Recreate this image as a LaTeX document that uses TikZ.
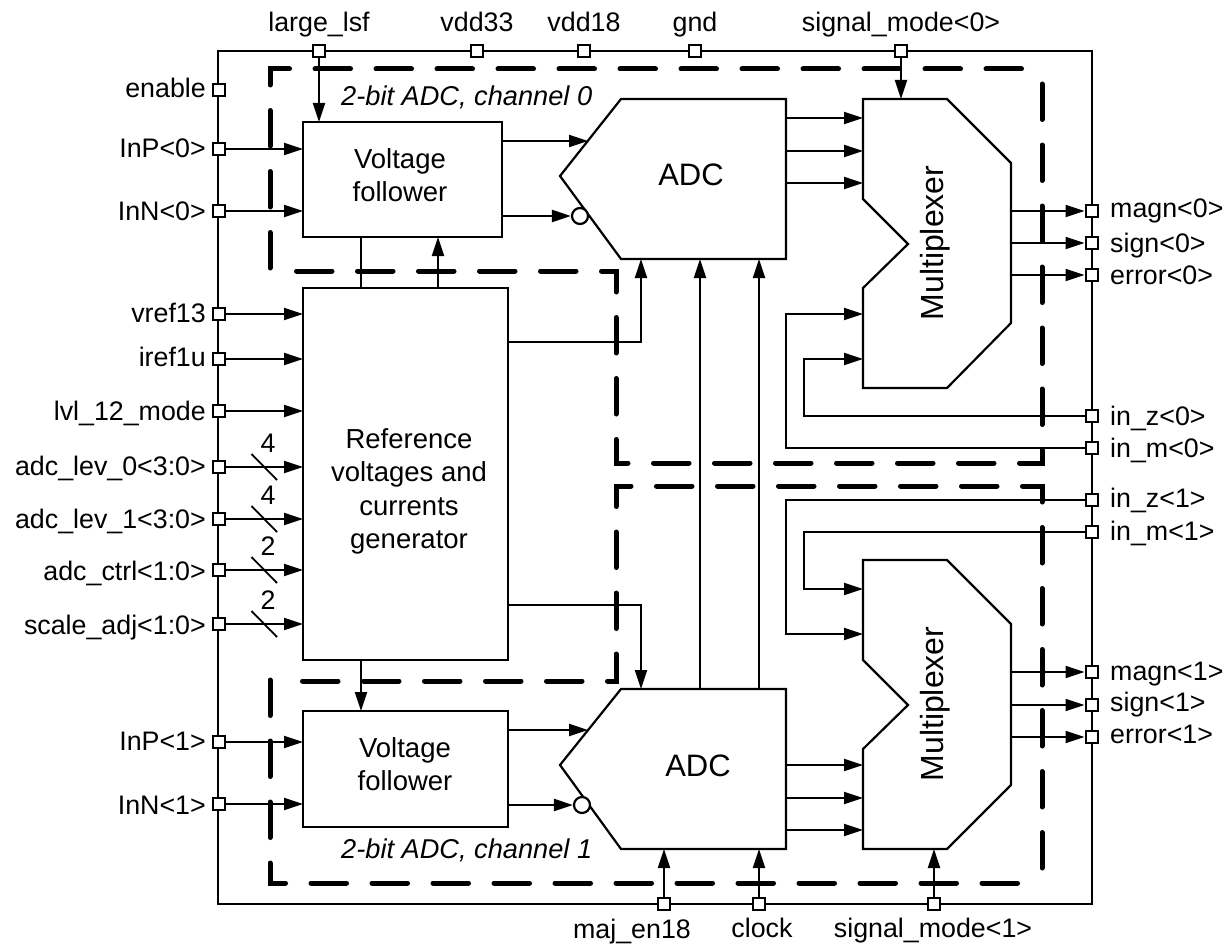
\documentclass[tikz,border=0pt]{standalone}
\usepackage{fontspec}
\setmainfont{Liberation Sans}
\usetikzlibrary{arrows.meta,calc}
\newcommand{\lab}{\fontsize{26.8}{31}\selectfont}
\newcommand{\bigtxt}{\fontsize{27.5}{32}\selectfont}
\tikzset{
  x=1pt,y=-1pt,
  wire/.style={line width=2.1pt,line join=miter},
  arr/.style={wire,-{Triangle[length=19pt,width=12pt]}},
  blockbox/.style={draw,line width=2.2pt,fill=white,line join=miter,outer sep=0pt},
  port/.style={draw,line width=2.4pt,fill=white,minimum size=12.5pt,inner sep=0pt},
  frame/.style={line width=2.8pt,line join=miter},
  region/.style={line width=5pt,line cap=round,line join=miter,dash pattern=on 35.5pt off 25.5pt},
  bus/.style={line width=1.8pt},
  txt/.style={inner sep=0pt,font=\lab},
  lft/.style={txt,anchor=base east},
  rgt/.style={txt,anchor=base west},
  title/.style={inner sep=0pt,font=\bigtxt,align=center},
  chan/.style={inner sep=0pt,font=\fontsize{27.2}{31}\selectfont\itshape},
  bubble/.style={draw,circle,line width=2.2pt,fill=white,minimum size=16pt,inner sep=0pt},
}
\begin{document}
\begin{tikzpicture}
\useasboundingbox (0,0) rectangle (1228,944);
% regions
\draw[region] (270,268) -- (270,69) -- (1022,69);
\draw[region] (1042,84) -- (1042,463) -- (616,463) -- (616,271) -- (290,271);
\draw[region] (270,680) -- (270,883) -- (1033,883);
\draw[region] (1042,868) -- (1042,486) -- (616,486) -- (616,681) -- (296,681);
% frame
\draw[frame] (218,51) rectangle (1092,904);
% blocks
\node[blockbox,minimum width=199pt,minimum height=115pt,anchor=north west] (vf0) at (303,122) {};
\node[title] (vf0txt) at (400,175) {Voltage\\[1pt]follower};
\node[blockbox,minimum width=205pt,minimum height=372pt,anchor=north west] (refgen) at (303,288) {};
\node[title] (reftxt) at (409,491.5) {Reference\\[1.5pt]voltages and\\[1.5pt]currents\\[1.5pt]generator};
\node[blockbox,minimum width=205pt,minimum height=116pt,anchor=north west] (vf1) at (303,711) {};
\node[title] (vf1txt) at (405,764) {Voltage\\[1pt]follower};
% ADCs
\draw[blockbox] (621,99) -- (786,99) -- (786,259) -- (621,259) -- (560,176) -- cycle;
\draw[blockbox] (621,689) -- (786,689) -- (786,849) -- (621,849) -- (560,765) -- cycle;
\node[title,font=\fontsize{31}{35}\selectfont] (adc0) at (691,175) {ADC};
\node[title,font=\fontsize{31}{35}\selectfont] (adc1) at (698,766) {ADC};
\node[bubble] (bub0) at (580,216) {};
\node[bubble] (bub1) at (582,805) {};
% multiplexers
\draw[blockbox] (863,99) -- (947,99) -- (1011,163) -- (1011,323) -- (947,388) -- (863,388) -- (863,288) -- (908,244) -- (863,199) -- cycle;
\draw[blockbox] (863,560) -- (947,560) -- (1011,624) -- (1011,785) -- (947,849) -- (863,849) -- (863,749) -- (908,705) -- (863,660) -- cycle;
\node[title,rotate=90,font=\fontsize{32}{36}\selectfont] (mux0) at (935,243) {Multiplexer};
\node[title,rotate=90,font=\fontsize{32}{36}\selectfont] (mux1) at (935,704) {Multiplexer};
% top ports
\foreach \n/\x/\t in {plsf/319/large\_lsf,pv33/477/vdd33,pv18/584/vdd18,pgnd/695/gnd,psm0/901/signal\_mode<0>}{
  \node[txt,anchor=base] at (\x,32) {\t};
  \node[port] (\n) at (\x,51) {};
}
% bottom ports
\node[port] (pmaj) at (664,904) {};
\node[port] (pclk) at (759,904) {};
\node[port] (psm1) at (934,904) {};
\node[txt,anchor=base] (tmaj) at (632,938) {maj\_en18};
\node[txt,anchor=base] (tclk) at (762,937) {clock};
\node[txt,anchor=base] (tsm1) at (933,937) {signal\_mode<1>};
% left ports: name / port y / text baseline / text
\foreach \n/\y/\b/\t in {pen/90/98/enable,pip0/149/158/InP<0>,pin0/211/220/InN<0>,pvr/314/322/vref13,pir/359/366/iref1u,plvl/411/420/lvl\_12\_mode,pl0/467/475/adc\_lev\_0<3:0>,pl1/519/528/adc\_lev\_1<3:0>,pct/570/580/adc\_ctrl<1:0>,psc/624/634/scale\_adj<1:0>,pip1/742/750/InP<1>,pin1/804/814/InN<1>}{
  \node[port] (\n) at (219,\y) {};
  \node[lft] at (206,\b) {\t};
}
% right ports: name / port y / text baseline / text
\foreach \n/\y/\b/\t in {pm0/211/218/magn<0>,ps0/243/252/sign<0>,pe0/275/284/error<0>,pz0/416/425/in\_z<0>,pn0/448/457/in\_m<0>,pz1/500/507/in\_z<1>,pn1/532/540/in\_m<1>,pm1/672/680/magn<1>,ps1/705/711/sign<1>,pe1/737/743/error<1>}{
  \node[port] (\n) at (1092,\y) {};
  \node[rgt] at (1110,\b) {\t};
}
% left connectors
\draw[arr] (pip0.east) -- (vf0.west|-pip0);
\draw[arr] (pin0.east) -- (vf0.west|-pin0);
\draw[arr] (pip1.east) -- (vf1.west|-pip1);
\draw[arr] (pin1.east) -- (vf1.west|-pin1);
\foreach \n in {pvr,pir,plvl,pl0,pl1,pct,psc}{\draw[arr] (\n.east) -- (refgen.west|-\n);}
% bus ticks
\foreach \n/\t in {pl0/4,pl1/4,pct/2,psc/2}{
  \draw[bus] ($(\n)+(32.5,-13)$) -- ($(\n)+(58,13)$);
  \node[txt] at ($(\n)+(49,-24)$) {\t};
}
% vertical connectors
\draw[arr] (plsf.south) -- (vf0.north-|plsf);
\draw[arr] (psm0.south) -- (901,99);
\draw[wire] (361,237) -- (361,288);
\draw[arr] (438,288) -- (438,237);
\draw[arr] (361,660) -- (361,711);
\draw[arr] (700,689) -- (700,259);
\draw[arr] (759,689) -- (759,259);
\draw[arr] (pmaj.north) -- (664,849);
\draw[arr] (pclk.north) -- (759,849);
\draw[arr] (psm1.north) -- (934,849);
% follower to ADC
\draw[arr] (502,141) -- (588,141);
\draw[arr] (502,216) -- (bub0.west);
\draw[arr] (508,730) -- (588,730);
\draw[arr] (508,805) -- (bub1.west);
% ref to ADC
\draw[arr] (508,342) -- (641,342) -- (641,259);
\draw[arr] (508,605) -- (641,605) -- (641,689);
% ADC to mux
\foreach \y in {118,151,183,765,798,830}{\draw[arr] (786,\y) -- (863,\y);}
% mux outs
\draw[arr] (1011,211) -- (pm0.west);
\draw[arr] (1011,243) -- (ps0.west);
\draw[arr] (1011,275) -- (pe0.west);
\draw[arr] (1011,672) -- (pm1.west);
\draw[arr] (1011,705) -- (ps1.west);
\draw[arr] (1011,737) -- (pe1.west);
% mux inputs
\draw[arr] (pz0.west) -- (804,416) -- (804,359) -- (863,359);
\draw[arr] (pn0.west) -- (786,448) -- (786,314) -- (863,314);
\draw[arr] (pz1.west) -- (786,500) -- (786,634) -- (863,634);
\draw[arr] (pn1.west) -- (804,532) -- (804,589) -- (863,589);
% captions
\node[chan,anchor=west] (c0) at (341,97) {2-bit ADC, channel 0};
\node[chan,anchor=west] (c1) at (341,850) {2-bit ADC, channel 1};
\end{tikzpicture}
\end{document}
